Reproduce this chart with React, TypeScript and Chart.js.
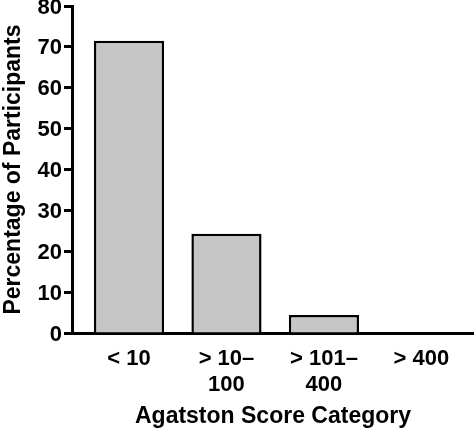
import { useEffect, useRef } from 'react'
import Chart from 'chart.js/auto'

// categories of the Agatston score, split into lines as printed
const categories: string[][] = [['< 10'], ['> 10–', '100'], ['> 101–', '400'], ['> 400']]
const percentages: number[] = [71.5, 24.3, 4.4, 0]
const yTicks: number[] = [0, 10, 20, 30, 40, 50, 60, 70, 80]

const FONT = "'Liberation Sans', Arial, Helvetica, sans-serif"

export default function App() {
  const chartRef = useRef<HTMLCanvasElement>(null)

  useEffect(() => {
    if (!chartRef.current) return
    const ctx = chartRef.current.getContext('2d')
    if (!ctx) return

    const chart = new Chart(ctx, {
      type: 'bar',
      data: {
        datasets: [{
          data: percentages.map((v, i) => ({ x: i, y: v })),
          backgroundColor: '#c6c6c6',
          borderColor: '#000',
          borderWidth: 2.5,
          borderSkipped: 'start',
          barPercentage: 0.72,
          categoryPercentage: 1
        }]
      },
      options: {
        animation: false,
        responsive: true,
        maintainAspectRatio: false,
        layout: { padding: { top: 6, right: 0, left: 0, bottom: 0 } },
        plugins: {
          legend: { display: false },
          tooltip: { enabled: false }
        },
        scales: {
          x: {
            type: 'linear',
            min: -0.585,
            max: 3.54,
            offset: false,
            afterBuildTicks: (scale: any) => {
              scale.ticks = categories.map((_, i) => ({ value: i }))
            },
            grid: { display: false, offset: false },
            border: { display: true, color: '#000', width: 3 },
            ticks: {
              autoSkip: false,
              maxRotation: 0,
              padding: 5,
              color: '#000',
              font: { family: FONT, size: 22, weight: 'bold', lineHeight: 1.18 },
              callback: (value: any) => {
                const i = Math.round(Number(value))
                return categories[i] ? categories[i] : ''
              }
            },
            title: {
              display: true,
              text: 'Agatston Score Category',
              color: '#000',
              font: { family: FONT, size: 23, weight: 'bold', lineHeight: 1 },
              padding: { top: 4, bottom: 0 }
            },
            afterFit: (scale: any) => {
              scale.height = 95
              scale.paddingLeft = 0
              scale.paddingRight = 0
            }
          },
          y: {
            min: 0,
            max: 80,
            afterBuildTicks: (scale: any) => {
              scale.ticks = yTicks.map((v) => ({ value: v }))
            },
            grid: {
              drawOnChartArea: false,
              drawTicks: true,
              tickLength: 8,
              tickWidth: 3,
              color: '#000'
            },
            border: { display: true, color: '#000', width: 3 },
            ticks: {
              padding: 2,
              labelOffset: 1.5,
              color: '#000',
              font: { family: FONT, size: 22, weight: 'bold' }
            },
            title: {
              display: true,
              text: 'Percentage of Participants',
              color: '#000',
              font: { family: FONT, size: 23, weight: 'bold' },
              padding: { top: 0, bottom: 0 }
            },
            afterFit: (scale: any) => {
              scale.width = 72
              scale.paddingTop = 0
              scale.paddingBottom = 0
            }
          }
        }
      }
    })

    return () => chart.destroy()
  }, [])

  return (
    <div style={{ position: 'fixed', left: 0, top: 0, width: 474, height: 428, background: '#fff' }}>
      <canvas ref={chartRef} />
    </div>
  )
}
